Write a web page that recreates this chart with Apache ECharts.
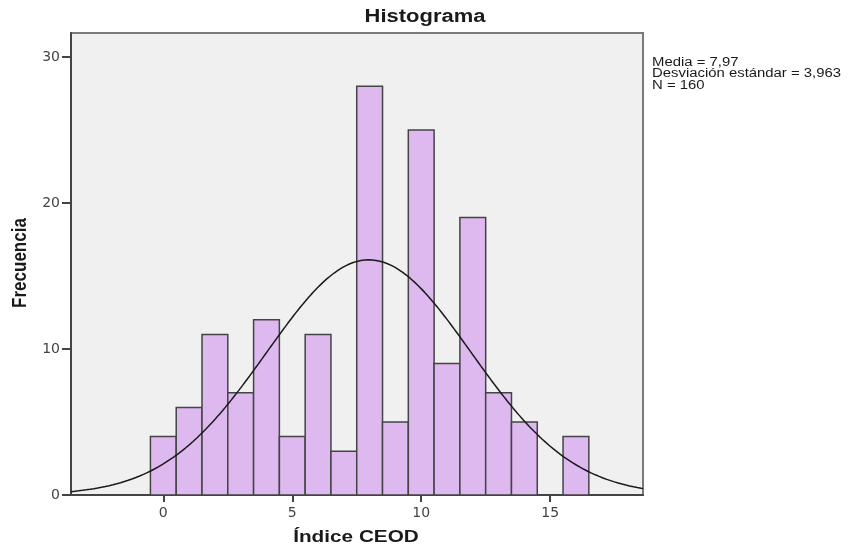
<!DOCTYPE html>
<html><head><meta charset="utf-8">
<script src="https://cdn.jsdelivr.net/npm/echarts@6/dist/echarts.min.js"></script>
<style>html,body{margin:0;padding:0;background:#fff}#c{width:848px;height:549px}</style>
</head><body><div id="c"></div>
<script>
var binCenters = [0,1,2,3,4,5,6,7,8,9,10,11,12,13,14,15,16];
var frequencies = [4,6,11,7,12,4,11,3,28,5,25,9,19,7,5,0,4];
var xTicks = [0,5,10,15];
var yTicks = [0,10,20,30];
var mean = 7.97, sd = 3.963, n = 160;
var xMin = -3.58, xMax = 18.6, yMax = 31.64;
var statsLines = ['Media = 7,97', 'Desviación estándar = 3,963', 'N = 160'];

var binData = binCenters.map(function(c,i){return [c, frequencies[i]];});
var curve = [];
for (var k = 0; k <= 300; k++) {
  var x = xMin + (xMax - xMin) * k / 300;
  var z = (x - mean) / sd;
  curve.push([x, n * Math.exp(-0.5 * z * z) / (sd * Math.sqrt(2 * Math.PI))]);
}

var chart = echarts.init(document.getElementById('c'));
chart.setOption({
  animation: false,
  graphic: [
    {type: 'text', x: 425, y: 17, scaleX: 1.22,
      style: {text: 'Histograma', font: 'bold 18px "Liberation Sans"', fill: '#1a1a1a', textAlign: 'center', textVerticalAlign: 'middle'}},
    {type: 'text', x: 356, y: 537, scaleX: 1.22,
      style: {text: 'Índice CEOD', font: 'bold 17px "Liberation Sans"', fill: '#1a1a1a', textAlign: 'center', textVerticalAlign: 'middle'}},
    {type: 'text', x: 20, y: 263, rotation: Math.PI / 2, scaleY: 1.22,
      style: {text: 'Frecuencia', font: 'bold 17px "Liberation Sans"', fill: '#1a1a1a', textAlign: 'center', textVerticalAlign: 'middle'}},
    {type: 'text', x: 652, y: 57, scaleX: 1.24,
      style: {text: statsLines.join('\n'), font: '12px "Liberation Sans"', fill: '#1a1a1a', lineHeight: 11.4}}
  ],
  grid: {left: 71, top: 33, right: 205, bottom: 54, show: true, backgroundColor: '#F0F0F0',
    borderColor: '#7a7a7a', borderWidth: 2},
  xAxis: {type: 'value', min: xMin, max: xMax,
    axisLine: {show: true, onZero: false, lineStyle: {color: '#444', width: 2}},
    axisTick: {show: true, length: 7, customValues: xTicks, lineStyle: {color: '#444', width: 2}},
    axisLabel: {color: '#444', fontFamily: 'DejaVu Sans', fontSize: 14, margin: 11, customValues: xTicks},
    splitLine: {show: false}},
  yAxis: {type: 'value', min: 0, max: yMax,
    axisLine: {show: true, onZero: false, lineStyle: {color: '#444', width: 2}},
    axisTick: {show: true, length: 9, customValues: yTicks, lineStyle: {color: '#444', width: 2}},
    axisLabel: {color: '#444', fontFamily: 'DejaVu Sans', fontSize: 14, margin: 11, customValues: yTicks},
    splitLine: {show: false}},
  series: [
    {type: 'custom', data: binData, clip: true,
      renderItem: function(params, api){
        var c = api.value(0), v = api.value(1);
        if (!v) return null;
        var p0 = api.coord([c - 0.5, 0]);
        var p1 = api.coord([c + 0.5, v]);
        return {type: 'rect', shape: {x: p0[0], y: p1[1], width: p1[0] - p0[0], height: p0[1] - p1[1]},
          style: {fill: '#DEB9F0', stroke: '#444', lineWidth: 1.5}};
      }},
    {type: 'line', data: curve, showSymbol: false, smooth: false,
      lineStyle: {color: '#1a1a1a', width: 1.5}, z: 5}
  ]
});
</script></body></html>
